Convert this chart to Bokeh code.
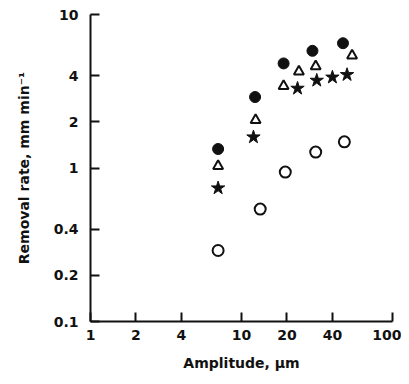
from bokeh.plotting import figure
from bokeh.models import FixedTicker
from bokeh.embed import file_html
from bokeh.resources import INLINE

x_ticks = [1, 2, 4, 10, 20, 40, 100]
y_ticks = [0.1, 0.2, 0.4, 1, 2, 4, 10]
x_tick_labels = ["1", "2", "4", "10", "20", "40", "100"]
y_tick_labels = ["0.1", "0.2", "0.4", "1", "2", "4", "10"]

filled_x = [7.0, 12.3, 19.0, 29.5, 47.0]
filled_y = [1.33, 2.9, 4.8, 5.8, 6.5]

open_x = [7.0, 13.3, 19.5, 31.0, 48.0]
open_y = [0.29, 0.54, 0.94, 1.27, 1.48]

tri_x = [7.0, 12.4, 19.0, 24.0, 31.0, 54.0]
tri_y = [1.03, 2.05, 3.42, 4.25, 4.6, 5.4]

star_x = [7.0, 12.0, 23.5, 31.5, 40.0, 50.0]
star_y = [0.74, 1.59, 3.3, 3.72, 3.9, 4.05]

p = figure(width=401, height=376, x_axis_type="log", y_axis_type="log",
           x_range=(1, 100), y_range=(0.1, 10),
           output_backend="svg", toolbar_location=None,
           min_border_left=90, min_border_right=9, min_border_top=14, min_border_bottom=55)

p.outline_line_color = None
p.grid.visible = False
p.background_fill_color = "white"

p.xaxis.ticker = FixedTicker(ticks=x_ticks)
p.yaxis.ticker = FixedTicker(ticks=y_ticks)
p.xaxis.major_label_overrides = {t: l for t, l in zip(x_ticks, x_tick_labels)}
p.yaxis.major_label_overrides = {t: l for t, l in zip(y_ticks, y_tick_labels)}

for ax in (p.xaxis, p.yaxis):
    ax.minor_tick_line_color = None
    ax.major_tick_in = 9
    ax.major_tick_out = 0
    ax.axis_line_width = 2
    ax.major_tick_line_width = 2
    ax.axis_line_color = "#111111"
    ax.major_tick_line_color = "#111111"
    ax.major_label_text_font = "DejaVu Sans"
    ax.major_label_text_font_style = "bold"
    ax.major_label_text_font_size = "14px"
    ax.major_label_text_color = "#111111"
    ax.axis_label_text_font = "DejaVu Sans"
    ax.axis_label_text_font_style = "bold"
    ax.axis_label_text_font_size = "14px"
    ax.axis_label_text_color = "#111111"

p.xaxis.major_label_standoff = 8
p.yaxis.major_label_standoff = 12
p.xaxis.axis_label = "Amplitude, μm"
p.yaxis.axis_label = "Removal rate, mm min⁻¹"
p.xaxis.axis_label_standoff = 12
p.yaxis.axis_label_standoff = 19

p.scatter(open_x, open_y, marker="circle", size=11, fill_color="white",
          line_color="#111111", line_width=2)
p.scatter(tri_x, tri_y, marker="triangle", size=10, fill_color="white",
          line_color="#111111", line_width=2)
p.scatter(star_x, star_y, marker="star", size=14, fill_color="#111111",
          line_color="#111111", line_width=1)
p.scatter(filled_x, filled_y, marker="circle", size=11, fill_color="#111111",
          line_color="#111111", line_width=1)

open("out.html", "w").write(file_html(p, INLINE))
